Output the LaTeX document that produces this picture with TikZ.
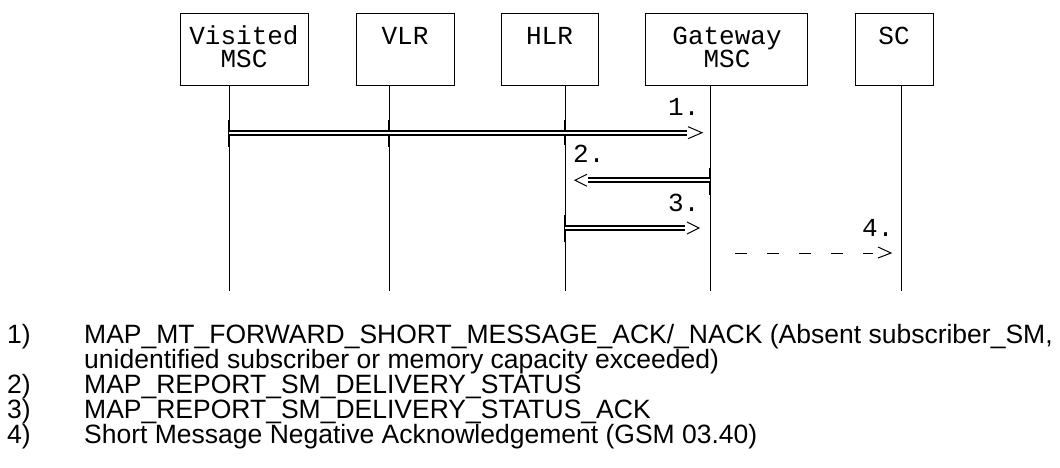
\documentclass[tikz,border=0pt]{standalone}
\usepackage{fontspec}
\setmainfont{Liberation Sans}
\newfontfamily\monof{Liberation Mono}
\usetikzlibrary{calc}
\newcommand{\boxtext}[1]{\parbox[t]{120pt}{\centering\monof\fontsize{26}{23}\selectfont #1}}
\begin{document}
\begin{tikzpicture}[x=1pt,y=-1pt,
  ent/.style={draw,line width=1.2pt,minimum height=72pt,inner sep=0pt,anchor=north west},
  lbl/.style={anchor=base,inner sep=0pt},
  mlbl/.style={font=\monof\fontsize{26}{26}\selectfont,anchor=base west,inner sep=0pt},
  life/.style={line width=1pt},
  tick/.style={line width=2pt},
  dbl/.style={draw,line width=1.7pt,double distance=2.3pt},
  tip/.style={line width=1pt},
  dsh/.style={line width=1pt,dash pattern=on 12pt off 20pt},
  legn/.style={font=\fontsize{26.5}{26.5}\selectfont,anchor=base west,inner sep=0pt}]
\useasboundingbox (0,0) rectangle (1060,468);
% entities
\node[ent,minimum width=128pt] (vmsc) at (180,13) {};
\node[ent,minimum width=98pt] (vlr) at (356,13) {};
\node[ent,minimum width=97pt] (hlr) at (501,13) {};
\node[ent,minimum width=162pt] (gmsc) at (645,13) {};
\node[ent,minimum width=78pt] (sc) at (855,13) {};
\node[lbl] (vmscA) at (244,45) {\boxtext{Visited\\MSC}};
\node[lbl] (vlrA) at (405,45) {\boxtext{VLR}};
\node[lbl] (hlrA) at (549.5,45) {\boxtext{HLR}};
\node[lbl] (gmscA) at (727,45) {\boxtext{Gateway\\MSC}};
\node[lbl] (scA) at (894,45) {\boxtext{SC}};
% lifelines
\coordinate (vmscE) at (229,291);
\coordinate (vlrE) at (389,291);
\coordinate (hlrE) at (565,291);
\coordinate (gmscE) at (710,291);
\coordinate (scE) at (901,291);
\draw[life] (vmsc.south -| vmscE) -- (vmscE);
\draw[life] (vlr.south -| vlrE) -- (vlrE);
\draw[life] (hlr.south -| hlrE) -- (hlrE);
\draw[life] (gmsc.south -| gmscE) -- (gmscE);
\draw[life] (sc.south -| scE) -- (scE);
% message 1
\coordinate (m1a) at (229,132.7);
\coordinate (m1b) at (702,132.7);
\draw[tick] ($(m1a)+(0,-13)$) -- ($(m1a)+(0,14)$);
\draw[tick] ($(m1a -| vlrE)+(0,-13)$) -- ($(m1a -| vlrE)+(0,14)$);
\draw[tick] ($(m1a -| hlrE)+(0,-13)$) -- ($(m1a -| hlrE)+(0,12)$);
\draw[dbl] (m1a) -- ($(m1b)+(-15,0)$);
\draw[tip] ($(m1b)+(-14,-6)$) -- (m1b) -- ($(m1b)+(-14,6)$);
\node[mlbl] (l1) at (668,116) {1.};
% message 2
\coordinate (m2a) at (710,180.3);
\coordinate (m2b) at (575,180.3);
\draw[tick] ($(m2a)+(0,-12)$) -- ($(m2a)+(0,15)$);
\draw[dbl] (m2a) -- ($(m2b)+(13,0)$);
\draw[tip] ($(m2b)+(12,-6)$) -- (m2b) -- ($(m2b)+(12,6)$);
\node[mlbl] (l2) at (573,163) {2.};
% message 3
\coordinate (m3a) at (565,228);
\coordinate (m3b) at (699,228);
\draw[tick] ($(m3a)+(0,-13)$) -- ($(m3a)+(0,14)$);
\draw[dbl] (m3a) -- ($(m3b)+(-14,0)$);
\draw[tip] ($(m3b)+(-12,-6)$) -- (m3b) -- ($(m3b)+(-12,6)$);
\node[mlbl] (l3) at (668,211) {3.};
% message 4
\coordinate (m4a) at (735,253);
\coordinate (m4b) at (891,253);
\draw[dsh] (m4a) -- ($(m4b)+(-18,0)$);
\draw[tip] ($(m4b)+(-13,-6)$) -- (m4b) -- ($(m4b)+(-13,5)$);
\node[mlbl] (l4) at (862,236) {4.};
% legend
\node[legn] (n1) at (7,343) {1)};
\node[legn] (t1) at (84,343) {MAP\_MT\_FORWARD\_SHORT\_MESSAGE\_ACK/\_NACK (Absent subscriber\_SM,};
\node[legn] (t1b) at (84,368) {unidentified subscriber or memory capacity exceeded)};
\node[legn] (n2) at (7,393) {2)};
\node[legn] (t2) at (84,393) {MAP\_REPORT\_SM\_DELIVERY\_STATUS};
\node[legn] (n3) at (7,418) {3)};
\node[legn] (t3) at (84,418) {MAP\_REPORT\_SM\_DELIVERY\_STATUS\_ACK};
\node[legn] (n4) at (7,443) {4)};
\node[legn] (t4) at (84,443) {Short Message Negative Acknowledgement (GSM 03.40)};
\end{tikzpicture}
\end{document}
